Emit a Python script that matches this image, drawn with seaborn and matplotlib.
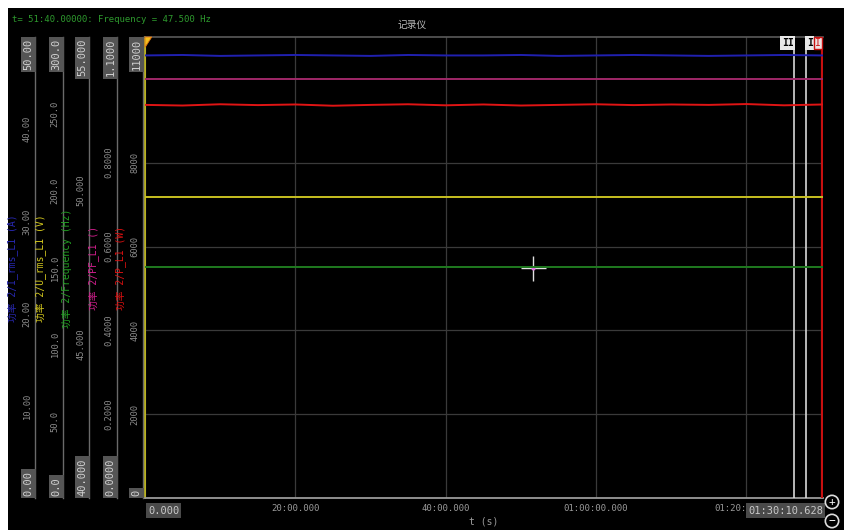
import matplotlib
matplotlib.use("Agg")
import matplotlib.pyplot as plt
import seaborn as sns
import pandas as pd
from matplotlib.patches import Rectangle, Polygon

# ---------------- data ----------------
t_min = [0, 5, 10, 15, 20, 25, 30, 35, 40, 45, 50, 55, 60, 65, 70, 75, 80, 85, 90.177]
i_rms = [48.0, 48.05, 47.95, 48.0, 48.05, 48.0, 47.95, 48.05, 48.0, 48.0, 48.05, 47.95, 48.0, 48.05, 48.0, 47.95, 48.0, 48.05, 48.0]
u_rms = [196, 196, 196, 196, 196, 196, 196, 196, 196, 196, 196, 196, 196, 196, 196, 196, 196, 196, 196]
freq = [47.5, 47.5, 47.5, 47.5, 47.5, 47.5, 47.5, 47.5, 47.5, 47.5, 47.5, 47.5, 47.5, 47.5, 47.5, 47.5, 47.5, 47.5, 47.5]
pf = [1.0, 1.0, 1.0, 1.0, 1.0, 1.0, 1.0, 1.0, 1.0, 1.0, 1.0, 1.0, 1.0, 1.0, 1.0, 1.0, 1.0, 1.0, 1.0]
p_w = [9380, 9365, 9395, 9375, 9390, 9360, 9380, 9395, 9370, 9390, 9365, 9380, 9395, 9375, 9390, 9380, 9400, 9370, 9390]

series_names = ["功率 2/I_rms_L1 (A)", "功率 2/U_rms_L1 (V)", "功率 2/Frequency (Hz)",
                "功率 2/PF_L1 ()", "功率 2/P_L1 (W)"]
series_values = [i_rms, u_rms, freq, pf, p_w]
series_limits = [(0, 50), (0, 300), (40, 55), (0, 1.1), (0, 11000)]
scale_ticks = [[10, 20, 30, 40], [50, 100, 150, 200, 250], [45, 50],
               [0.2, 0.4, 0.6, 0.8], [2000, 4000, 6000, 8000]]
scale_fmt = ["{:.2f}", "{:.1f}", "{:.3f}", "{:.4f}", "{:.0f}"]
end_labels = [("0.00", "50.00"), ("0.0", "300.0"), ("40.000", "55.000"),
              ("0.0000", "1.1000"), ("0", "11000")]

x_ticks = [0, 20, 40, 60, 80]
x_ticklabels = ["", "20:00.000", "40:00.000", "01:00:00.000", "01:20:"]
t_end = 90.177
cursor_t = 51.667

# ---------------- style ----------------
sns.set_theme(style="dark")
MONO = ["DejaVu Sans Mono", "Noto Sans CJK SC"]
plt.rcParams["font.family"] = MONO

line_colors = ["#2020b0", "#c8c020", "#1f7a1f", "#a02868", "#e01414"]
label_colors = ["#2828b0", "#d4c81e", "#22a022", "#d01e8c", "#d81010"]
GRAY = "#8c8c8c"

W, H = 845, 530
fig = plt.figure(figsize=(W / 100, H / 100), dpi=100, facecolor="black")


def fx(px):
    return px / W


def fy(py):
    return 1 - py / H


top_px, bot_px = 37, 498
left_px, right_px = 145, 823
hfrac = (bot_px - top_px) / H

# white frame strips of the screenshot
fig.patches.append(Rectangle((0, 0), fx(8), 1, transform=fig.transFigure,
                             facecolor="white", edgecolor="none", zorder=0))
fig.patches.append(Rectangle((0, fy(8)), 1, 8 / H, transform=fig.transFigure,
                             facecolor="white", edgecolor="none", zorder=0))

# ---------------- main axes ----------------
ax = fig.add_axes([fx(left_px), fy(bot_px), fx(right_px - left_px), hfrac])
ax.set_facecolor("black")
ax.set_xlim(0, t_end)
ax.set_ylim(0, 11000)
ax.set_yticks([2000, 4000, 6000, 8000])
ax.set_yticklabels([])
ax.set_xticks(x_ticks)
ax.set_xticklabels(x_ticklabels)
ax.tick_params(axis="x", colors="#9a9a9a", labelsize=6.5, length=0, pad=4)
ax.tick_params(axis="y", length=0)
last_lbl = ax.get_xticklabels()[-1]
last_lbl.set_horizontalalignment("right")
ax.grid(True, color="#3a3a3a", lw=0.9)
ax.spines["right"].set_visible(False)
ax.spines["bottom"].set_color("#9a9a9a")
ax.spines["bottom"].set_linewidth(1.3)
ax.spines["top"].set_color("#5a5a5a")
ax.spines["top"].set_linewidth(1.2)
ax.spines["left"].set_color("#c8c020")
ax.spines["left"].set_linewidth(1.3)
ax.set_xlabel("t (s)", color="#9a9a9a", fontsize=7, labelpad=3)

# series on overlaid twin axes
for vals, lim, col in zip(series_values, series_limits, line_colors):
    tw = ax.twinx()
    tw.set_ylim(*lim)
    tw.set_xlim(0, t_end)
    df = pd.DataFrame({"t": t_min, "v": vals})
    sns.lineplot(data=df, x="t", y="v", ax=tw, color=col, lw=1.4)
    tw.set_yticks([])
    tw.set_ylabel("")
    tw.set_xlabel("")
    for s in tw.spines.values():
        s.set_visible(False)
    tw.grid(False)

# cursors
ax.axvline(86.32, color="#d8d8d8", lw=1.2, zorder=5)
ax.axvline(87.92, color="#d8d8d8", lw=1.2, zorder=5)
ax.axvline(90.02, color="#c81010", lw=1.6, zorder=5)
ax.text(86.25, 10970, "II", ha="right", va="top", fontsize=7, color="black",
        fontweight="bold",
        bbox=dict(facecolor="#e8e8e8", edgecolor="none", pad=1.3), zorder=6)
ax.text(88.0, 10970, "I", ha="left", va="top", fontsize=7, color="black",
        fontweight="bold",
        bbox=dict(facecolor="#e8e8e8", edgecolor="none", pad=1.3), zorder=6)
ax.text(89.95, 10970, "I", ha="right", va="top", fontsize=7, color="#c81010",
        bbox=dict(facecolor="#f0e0e0", edgecolor="#c81010", pad=0.8), zorder=6)

# start marker triangle
ax.add_patch(Polygon([[0, 11000], [0.9, 11000], [0, 10750]], closed=True,
                     facecolor="#f0c020", edgecolor="#e07010", lw=0.6,
                     clip_on=False, zorder=7))

# crosshair at cursor point (freq 47.5 Hz -> main scale)
cross_y = (47.5 - 40) / 15 * 11000
ax.plot([cursor_t], [cross_y], marker="+", ms=18, mew=1.0, color="#e0e0e0", zorder=8)
ax.plot([cursor_t], [cross_y], marker="o", ms=3, color="#e070e0", mec="none", zorder=9)

# x end labels in boxes
ax.text(0.4, -180, "0.000", ha="left", va="top",
        fontsize=7.5, color="#c8c8c8",
        bbox=dict(facecolor="#4a4a4a", edgecolor="none", pad=1.5), clip_on=False)
ax.text(t_end, -180, "01:30:10.628", ha="right", va="top", fontsize=7.5,
        color="#c8c8c8", bbox=dict(facecolor="#4a4a4a", edgecolor="none", pad=1.5),
        clip_on=False, zorder=10)

# ---------------- left scale axes ----------------
scale_x = [35, 63, 89, 117, 143]
title_x = [13, 41, 67, 94, 121]
for k in range(5):
    sa = fig.add_axes([fx(scale_x[k]), fy(bot_px), 0.0005, hfrac])
    sa.set_facecolor("none")
    sa.patch.set_alpha(0)
    sa.set_ylim(*series_limits[k])
    sa.set_xticks([])
    for s in ["right", "top", "bottom"]:
        sa.spines[s].set_visible(False)
    sa.spines["left"].set_color("#6a6a6a")
    sa.spines["left"].set_linewidth(1.0)
    sa.set_yticks(scale_ticks[k])
    sa.set_yticklabels([scale_fmt[k].format(v) for v in scale_ticks[k]],
                       rotation=90, va="center", fontsize=6.3, color=GRAY)
    sa.tick_params(axis="y", length=2, width=0.8, color="#6a6a6a", pad=0.5)
    sa.grid(False)
    lo, hi = end_labels[k]
    fig.text(fx(scale_x[k] - 1.5), fy(top_px + 2), hi, rotation=90, ha="right",
             va="top", fontsize=7.5, color="#d0d0d0",
             bbox=dict(facecolor="#555555", edgecolor="none", pad=1.5))
    fig.text(fx(scale_x[k] - 1.5), fy(bot_px - 2), lo, rotation=90, ha="right",
             va="bottom", fontsize=7.5, color="#d0d0d0",
             bbox=dict(facecolor="#555555", edgecolor="none", pad=1.5))
    fig.text(fx(title_x[k]), fy(268), series_names[k], rotation=90, ha="center",
             va="center", fontsize=7, color=label_colors[k], family=MONO)

# ---------------- header texts ----------------
fig.text(fx(12), fy(19), "t= 51:40.00000: Frequency = 47.500 Hz", color="#2e9a2e",
         fontsize=6.5, va="center", ha="left")
fig.text(fx(412), fy(25), "记录仪", color="#bbbbbb", fontsize=7, ha="center",
         va="center", family=["Noto Sans CJK SC", "DejaVu Sans"])

# zoom icons
fig.text(fx(832), fy(502), "+", color="white", fontsize=8, ha="center", va="center",
         bbox=dict(boxstyle="circle,pad=0.15", facecolor="black", edgecolor="#dddddd", lw=1.2))
fig.text(fx(832), fy(521), "−", color="white", fontsize=8, ha="center", va="center",
         bbox=dict(boxstyle="circle,pad=0.15", facecolor="black", edgecolor="#dddddd", lw=1.2))

fig.savefig("out.png", dpi=100, facecolor="black")
